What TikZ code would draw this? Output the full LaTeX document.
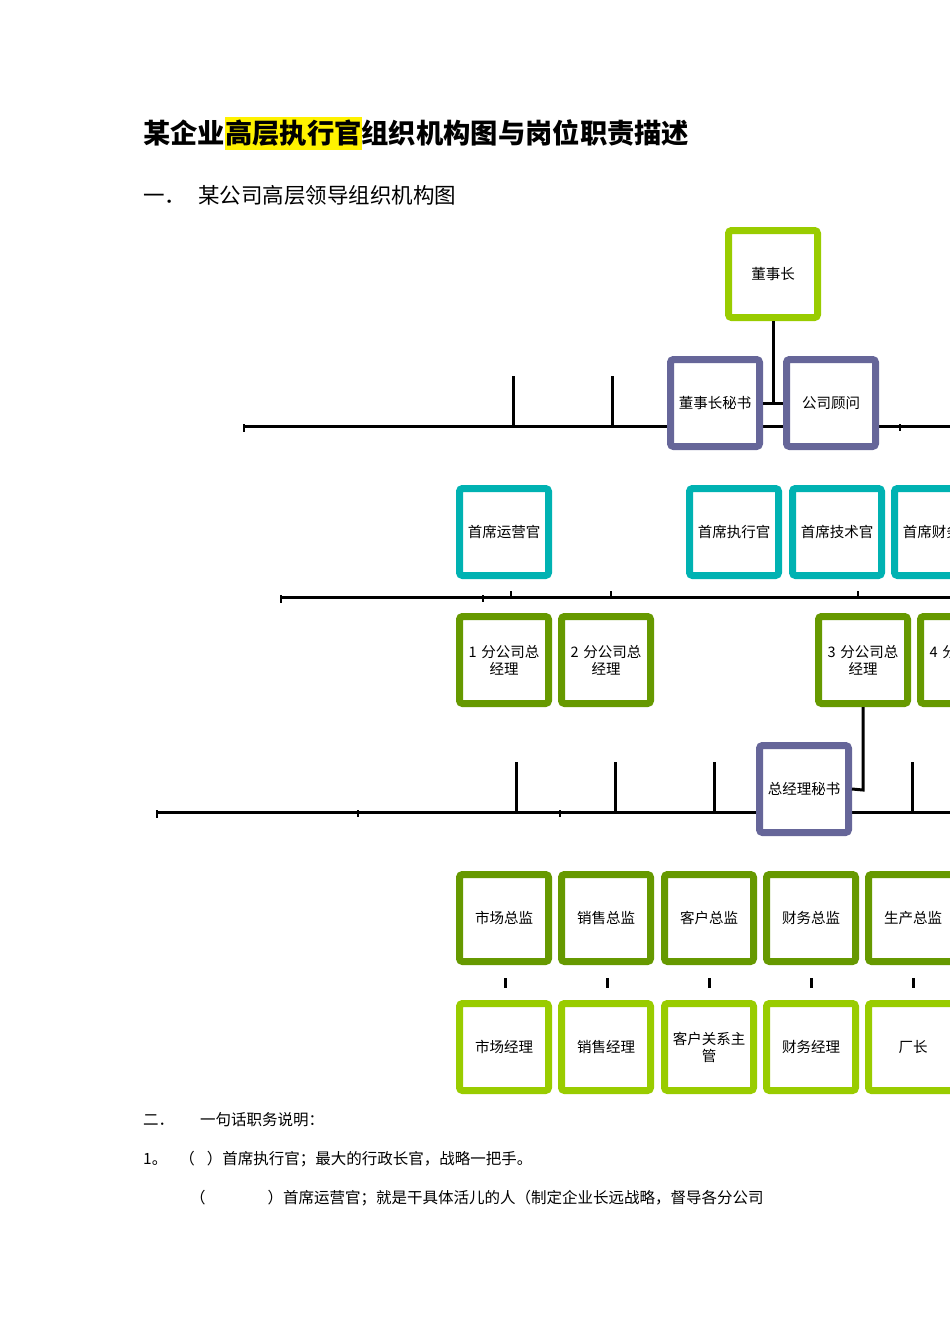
\documentclass[tikz,border=0pt]{standalone}
\usepackage{fontspec}
\newfontfamily\cjk{Noto Sans CJK SC}
\begin{document}
\begin{tikzpicture}[x=1pt,y=-1pt,
  box/.style={draw,line width=7pt,rounded corners=3pt,minimum width=89pt,minimum height=87pt,inner sep=0pt,fill=white,
    font=\cjk\fontsize{14.5}{17}\selectfont,align=center,text width=86pt},
  lg/.style={box,draw=lgreen},dg/.style={box,draw=dgreen},pu/.style={box,draw=purp},te/.style={box,draw=teal1},
  ln/.style={line width=3pt},tk/.style={line width=2pt},
  txt/.style={font=\cjk,anchor=west,inner sep=0pt}]
\definecolor{lgreen}{HTML}{99CC00}\definecolor{dgreen}{HTML}{669900}
\definecolor{purp}{HTML}{666699}\definecolor{teal1}{HTML}{00B2B2}
\useasboundingbox (0,0) rectangle (950,1344);
% title
\fill[yellow] (225,117) rectangle (362,150);
\node[txt,font=\cjk\bfseries\fontsize{27.3}{31}\selectfont] (title) at (143,133) {某企业高层执行官组织机构图与岗位职责描述};
\node[txt,font=\cjk\fontsize{21.5}{25}\selectfont] (sec1) at (143,195) {一．\hspace{12pt}某公司高层领导组织机构图};
% lines
\draw[ln] (244,426) -- (950,426);
\draw[tk] (244,424) -- (244,432) (900,424) -- (900,431);
\draw[ln] (513,376) -- (513,426) (612,376) -- (612,426);
\draw[ln] (281,597) -- (950,597);
\draw[tk] (281,595) -- (281,603) (483,595) -- (483,602);
\draw[tk] (511,591) -- (511,597) (611,591) -- (611,597) (858,591) -- (858,597);
\draw[ln] (157,812) -- (950,812);
\draw[tk] (157,810) -- (157,818) (358,810) -- (358,817) (560,810) -- (560,817);
\draw[ln] (516,762) -- (516,812) (615,762) -- (615,812) (714,762) -- (714,812) (912,762) -- (912,812);
\foreach \x in {505,607,709,811,913} \draw[ln] (\x,978) -- (\x,988);
% boxes
\node[lg] (dsz) at (773,274) {董事长};
\node[pu] (dszms) at (715,403) {董事长秘书};
\node[pu] (gw) at (831,403) {公司顾问};
\draw[ln] (dsz.south) -- (773,404);
\draw[ln] (dszms.east) -- (gw.west);
\node[te] (coo) at (504,532) {首席运营官};
\node[te] (ceo) at (734,532) {首席执行官};
\node[te] (cto) at (837,532) {首席技术官};
\node[te] (cfo) at (939,532) {首席财务官};
\node[dg] (f1) at (504,660) {1 分公司总\\经理};
\node[dg] (f2) at (606,660) {2 分公司总\\经理};
\node[dg] (f3) at (863,660) {3 分公司总\\经理};
\node[dg] (f4) at (965,660) {4 分公司总\\经理};
\node[pu] (zjlms) at (804,789) {总经理秘书};
\draw[ln] (f3.south) -- (863,790) -- (zjlms.east);
\node[dg] (a1) at (504,918) {市场总监};
\node[dg] (a2) at (606,918) {销售总监};
\node[dg] (a3) at (709,918) {客户总监};
\node[dg] (a4) at (811,918) {财务总监};
\node[dg] (a5) at (913,918) {生产总监};
\node[lg] (b1) at (504,1047) {市场经理};
\node[lg] (b2) at (606,1047) {销售经理};
\node[lg] (b3) at (709,1047) {客户关系主\\管};
\node[lg] (b4) at (811,1047) {财务经理};
\node[lg] (b5) at (913,1047) {厂长};
% text
\node[txt,font=\cjk\fontsize{15.5}{18}\selectfont] (s2) at (143,1120) {二．\hspace{26pt}一句话职务说明：};
\node[txt,font=\cjk\fontsize{15.5}{18}\selectfont] (l1) at (143,1159) {1。\hspace{12pt}（\hspace{12pt}）首席执行官；最大的行政长官，战略一把手。};
\node[txt,font=\cjk\fontsize{15.5}{18}\selectfont] (l2) at (190,1198) {（\hspace{62pt}）首席运营官；就是干具体活儿的人（制定企业长远战略，督导各分公司};
\end{tikzpicture}
\end{document}
